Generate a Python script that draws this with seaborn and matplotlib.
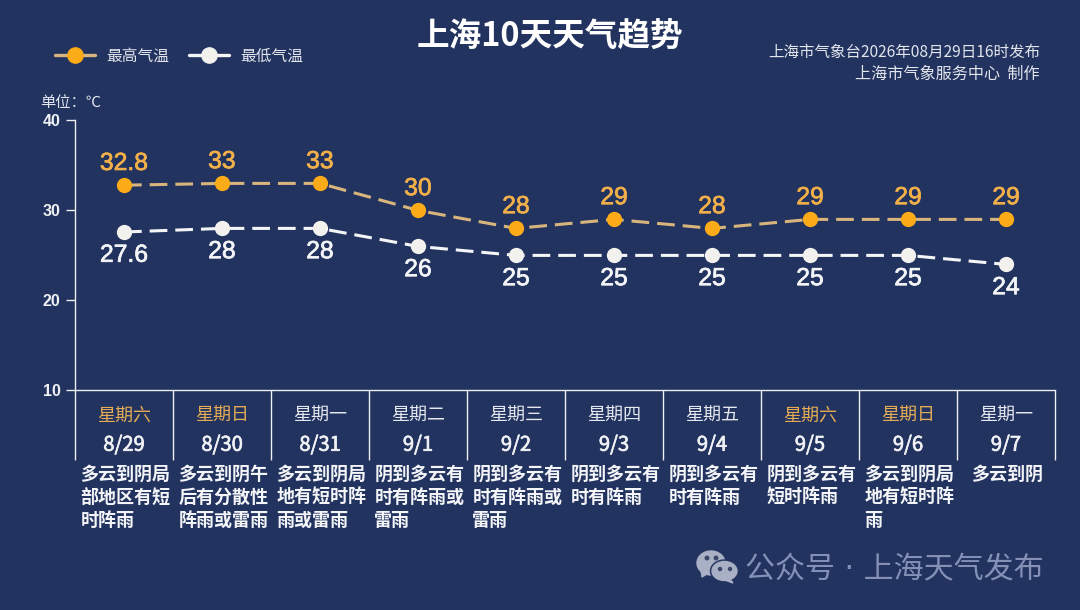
import matplotlib
matplotlib.use("Agg")
import matplotlib.pyplot as plt
import matplotlib.patheffects as pe
from matplotlib.lines import Line2D
from matplotlib.patches import Ellipse, Polygon
from matplotlib.transforms import IdentityTransform
import pandas as pd
import seaborn as sns

dates = ["8/29", "8/30", "8/31", "9/1", "9/2", "9/3", "9/4", "9/5", "9/6", "9/7"]
weekdays = ["星期六", "星期日", "星期一", "星期二", "星期三", "星期四", "星期五", "星期六", "星期日", "星期一"]
high_temps = [32.8, 33, 33, 30, 28, 29, 28, 29, 29, 29]
low_temps = [27.6, 28, 28, 26, 25, 25, 25, 25, 25, 24]
y_ticks = [10, 20, 30, 40]
descriptions = [
    "多云到阴局\n部地区有短\n时阵雨",
    "多云到阴午\n后有分散性\n阵雨或雷雨",
    "多云到阴局\n地有短时阵\n雨或雷雨",
    "阴到多云有\n时有阵雨或\n雷雨",
    "阴到多云有\n时有阵雨或\n雷雨",
    "阴到多云有\n时有阵雨",
    "阴到多云有\n时有阵雨",
    "阴到多云有\n短时阵雨",
    "多云到阴局\n地有短时阵\n雨",
    "多云到阴",
]
HIGH, LOW = "最高气温", "最低气温"

BG = "#22335F"
GOLD = "#FBAB17"
TAN = "#D8B57C"
WHITE = "#F4F5F7"
LABEL_GOLD = "#F2B04A"
WEEK_GOLD = "#E5AC55"
W, H = 1080, 610

sns.set_theme(style="white")
plt.rcParams["font.family"] = ["Noto Sans CJK SC", "DejaVu Sans"]
NUM = ["Liberation Sans", "DejaVu Sans"]

df = pd.DataFrame({
    "date": dates * 2,
    "temp": high_temps + low_temps,
    "series": [HIGH] * len(dates) + [LOW] * len(dates),
})

fig = plt.figure(figsize=(W / 100, H / 100), dpi=100, facecolor=BG)
ax = fig.add_axes([75 / W, 1 - 390.4 / H, 980 / W, 270 / H], facecolor=BG)

sns.lineplot(
    data=df, x="date", y="temp", hue="series", style="series", sort=False,
    palette={HIGH: TAN, LOW: WHITE},
    dashes={HIGH: (5.8, 2.6), LOW: (5.8, 2.6)},
    markers={HIGH: "o", LOW: "o"},
    linewidth=2.2, markersize=11, markeredgewidth=0, legend=False, ax=ax, clip_on=False,
)
for line, c in zip(ax.get_lines(), [GOLD, "#F2F1EE"]):
    line.set_markerfacecolor(c)
    line.set_markeredgecolor(c)

ax.set_xlim(-0.5, 9.5)
ax.set_ylim(10, 40)
ax.set_xlabel("")
ax.set_ylabel("")
ax.set_yticks(y_ticks)
ax.set_xticks([])
ax.tick_params(axis="y", length=6.5, width=1, color="#EDEFF3", left=True, pad=4)
for t in ax.get_yticklabels():
    t.set_color("#EEF0F4")
    t.set_fontsize(11.5)
    t.set_fontweight("bold")
    t.set_family(NUM)
for s in ["top", "right"]:
    ax.spines[s].set_visible(False)
for s in ["left", "bottom"]:
    ax.spines[s].set_color("#EDEFF3")
    ax.spines[s].set_linewidth(1)

# day separators below the axis
trans = ax.get_xaxis_transform()
for i in range(len(dates) + 1):
    ax.plot([i - 0.5, i - 0.5], [0, -70 / 270], transform=trans, color="#EDEFF3",
            lw=1, clip_on=False, solid_capstyle="butt")

# value labels
for i, (hi, lo) in enumerate(zip(high_temps, low_temps)):
    t1 = ax.annotate(f"{hi:g}", (i, hi), xytext=(0, 16), textcoords="offset points",
                     ha="center", va="center", color=LABEL_GOLD, fontsize=17.8, family=NUM)
    t2 = ax.annotate(f"{lo:g}", (i, lo), xytext=(0, -16.4), textcoords="offset points",
                     ha="center", va="center", color=WHITE, fontsize=17.8, family=NUM)
    for t, c in ((t1, LABEL_GOLD), (t2, WHITE)):
        t.set_path_effects([pe.withStroke(linewidth=0.5, foreground=c)])

# day columns
for i, (wd, d, desc) in enumerate(zip(weekdays, dates, descriptions)):
    color = WEEK_GOLD if wd in ("星期六", "星期日") else "#E6E8EF"
    ax.annotate(wd, (i, 0), xycoords=trans, xytext=(0, -18.4), textcoords="offset points",
                ha="center", va="center", color=color, fontsize=13)
    td = ax.annotate(d, (i, 0), xycoords=trans, xytext=(0, -39.5), textcoords="offset points",
                     ha="center", va="center", color="#F0F1F5", fontsize=14.5)
    td.set_path_effects([pe.withStroke(linewidth=0.5, foreground="#F0F1F5")])
    ax.annotate(desc, (i, 0), xycoords=trans, xytext=(1, -53.5), textcoords="offset points",
                ha="center", va="top", multialignment="left", color="#F4F5F8",
                fontsize=13, fontweight="bold", linespacing=1.28)


def px_text(x, y, s, **kw):
    fig.text(x / W, 1 - y / H, s, **kw)


px_text(550, 37.5, "上海10天天气趋势", ha="center", va="center", color="white",
        fontsize=23.5, fontweight="bold")
px_text(1040, 52, "上海市气象台2026年08月29日16时发布", ha="right", va="center",
        color="#E2E5EC", fontsize=11.2)
px_text(1040, 74, "上海市气象服务中心  制作", ha="right", va="center",
        color="#E2E5EC", fontsize=11.6)
px_text(40, 102, "单位\uFF1A℃", ha="left", va="center", color="#E2E5EC", fontsize=11)

handles = [
    Line2D([], [], color=TAN, lw=2.4, marker="o", ms=11, mfc=GOLD, mec=GOLD, label=HIGH),
    Line2D([], [], color=WHITE, lw=2.4, marker="o", ms=11, mfc="#F2F1EE", mec="#F2F1EE", label=LOW),
]
leg = fig.legend(handles=handles, loc="center left", bbox_to_anchor=(55 / W, 1 - 56 / H),
                 ncol=2, frameon=False, fontsize=11.3, labelcolor="#E2E5EC",
                 borderpad=0, borderaxespad=0, handlelength=2.55, handletextpad=0.7,
                 columnspacing=1.3)

# watermark
px_text(745, 570, "公众号 · 上海天气发布", ha="left", va="center", color="#8490B6", fontsize=21.6,
        family=["DejaVu Sans", "Noto Sans CJK SC"])
icon = "#A9B0C6"
eye = "#3A4668"
def px(x, y):
    return (x, H - y)
for patch in [
    Ellipse(px(711, 563), 28, 24, color=icon),
    Polygon([px(701, 570), px(702, 577), px(710, 572)], color=icon),
    Ellipse(px(724.5, 571), 28, 22, color=BG),
    Ellipse(px(724.5, 571), 25, 19, color=icon),
    Polygon([px(729, 578), px(733, 583), px(722, 579)], color=icon),
    Ellipse(px(707, 558), 3.5, 3.5, color=eye),
    Ellipse(px(716, 558), 3.5, 3.5, color=eye),
    Ellipse(px(720, 569), 3, 3, color=eye),
    Ellipse(px(730, 569), 3, 3, color=eye),
]:
    patch.set_transform(IdentityTransform())
    fig.add_artist(patch)

fig.savefig("out.png", dpi=100, facecolor=BG)
